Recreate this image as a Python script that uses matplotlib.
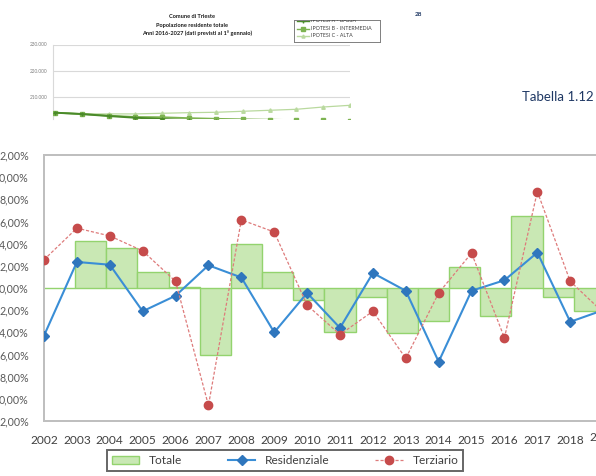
import matplotlib
matplotlib.use("Agg")
import matplotlib.pyplot as plt
from matplotlib.patches import Patch

plt.rcParams['font.family'] = ['Lato', 'DejaVu Sans']

# ---------------- data ----------------
years = list(range(2002, 2020))
totale = [0.0, 4.2, 3.6, 1.4, 0.1, -6.0, 4.0, 1.4, -1.1, -4.0, -0.8, -4.1,
          -3.0, 1.9, -2.5, 6.5, -0.8, -2.1]
residenziale = [-4.3, 2.35, 2.1, -2.1, -0.7, 2.05, 0.95, -4.0, -0.45, -3.6,
                1.35, -0.25, -6.65, -0.25, 0.7, 3.2, -3.05, -2.0]
terziario = [2.55, 5.4, 4.7, 3.35, 0.6, -10.6, 6.15, 5.05, -1.55, -4.2,
             -2.1, -6.35, -0.45, 3.15, -4.5, 8.7, 0.6, -2.2]
y_ticks = [12, 10, 8, 6, 4, 2, 0, -2, -4, -6, -8, -10, -12]
y_tick_labels = ["2,00%", "0,00%", "8,00%", "6,00%", "4,00%", "2,00%", "0,00%",
                 "2,00%", "4,00%", "6,00%", "8,00%", "0,00%", "2,00%"]

# inset (population projection)
inset_years = list(range(2016, 2028))
ipotesi_a = [204030, 203500, 202750, 202100, 201600, 201200, 200800, 200400,
             200000, 199600, 199200, 198800]
ipotesi_b = [204030, 203540, 202900, 202400, 202300, 201950, 201700, 201500,
             201350, 201200, 201100, 201000]
ipotesi_c = [204030, 203540, 203560, 203560, 203800, 204030, 204180, 204560,
             204940, 205320, 206190, 206840]
inset_ticks = [210000, 220000, 230000]
inset_tick_labels = ["210.000", "220.000", "230.000"]

W, H = 596, 476
fig = plt.figure(figsize=(W / 100, H / 100), dpi=100)


def fx(px):
    return px / W


def fy(py):
    return 1 - py / H


# ---------------- inset chart ----------------
ax_in = fig.add_axes([fx(53), fy(119), fx(350) - fx(53), fy(44.5) - fy(119)])
ax_in.set_xlim(2015.93, 2027)
ax_in.set_ylim(201620, 230000)
for v in inset_ticks:
    ax_in.axhline(v, color="#D9D9D9", lw=0.8, zorder=0)
ax_in.plot(inset_years, ipotesi_c, color="#B9D99E", lw=0.9, marker="^",
           ms=2.5, zorder=2)
ax_in.plot(inset_years, ipotesi_b, color="#7DB351", lw=1.3, marker="s",
           ms=2.2, zorder=3)
ax_in.plot(inset_years, ipotesi_a, color="#4A8A2A", lw=1.4, marker="+",
           ms=3, zorder=4)
ax_in.set_yticks(inset_ticks)
ax_in.set_yticklabels(inset_tick_labels, fontsize=3.4, color="#7F7F7F")
ax_in.tick_params(axis="y", length=0, pad=4)
ax_in.set_xticks([])
for s in ["top", "right", "bottom"]:
    ax_in.spines[s].set_visible(False)
ax_in.spines["left"].set_color("#D9D9D9")
ax_in.spines["left"].set_linewidth(0.8)

fig.text(fx(192), fy(17), "Comune di Trieste", ha="center", va="center",
         fontsize=4.1, fontweight="bold", color="#1A1A1A")
fig.text(fx(192), fy(25), "Popolazione residente totale", ha="center",
         va="center", fontsize=4.1, fontweight="bold", color="#1A1A1A")
fig.text(fx(197), fy(33.3), "Anni 2016-2027 (dati previsti al 1° gennaio)",
         ha="center", va="center", fontsize=4.1, fontweight="bold",
         color="#1A1A1A")

# inset legend (clipped at the top)
ax_lg = fig.add_axes([fx(294), fy(42), fx(380) - fx(294), fy(19.5) - fy(42)])
ax_lg.set_xlim(0, 86)
ax_lg.set_ylim(42, 19.5)
ax_lg.set_xticks([])
ax_lg.set_yticks([])
for s in ax_lg.spines.values():
    s.set_color("#7F7F7F")
    s.set_linewidth(0.7)
legend_entries = [("IPOTESI A - BASSA", "#4A8A2A", "+", 20.5),
                  ("IPOTESI B - INTERMEDIA", "#7DB351", "s", 28.7),
                  ("IPOTESI C - ALTA", "#B9D99E", "^", 35.8)]
for label, col, mk, yy in legend_entries:
    ax_lg.plot([3, 15], [yy, yy], color=col, lw=1.0, clip_on=True)
    ax_lg.plot([9], [yy], color=col, marker=mk, ms=2.2, clip_on=True)
    ax_lg.text(17, yy, label, fontsize=3.8, color="#404040", va="center",
               ha="left", clip_on=True)

fig.text(fx(418), fy(14.3), "28", ha="center", va="center", fontsize=4.6,
         fontweight="bold", color="#1F3864")
fig.text(fx(521.5), fy(97), "Tabella 1.12", ha="left", va="center",
         fontsize=9.5, color="#1F3864")

# ---------------- main chart ----------------
left, right, top, bottom = 44, 636, 155, 421
ax = fig.add_axes([fx(left), fy(bottom), fx(right) - fx(left),
                   fy(top) - fy(bottom)])
ax.set_ylim(-12, 12)
ax.set_xlim(0, 19)
bar_idx = list(range(len(years)))
bars = ax.bar(bar_idx, totale, width=1.0, align="edge", color="#C9E8B4",
              edgecolor="#93D36E", linewidth=1.0, label="Totale", zorder=1)

ax2 = ax.twiny()
ax2.set_xlim(0, 18)
line_idx = list(range(len(years)))
l1, = ax2.plot(line_idx, residenziale, color="#3A8ED6", lw=1.5, marker="D",
               ms=5.2, mfc="#2F76BD", mec="#2F76BD", label="Residenziale",
               zorder=3)
l2, = ax2.plot(line_idx, terziario, color="#DE7B7B", lw=0.9,
               linestyle=(0, (2.5, 1.5)), marker="o", ms=6, mfc="#C64B4B",
               mec="#C64B4B", label="Terziario", zorder=4)

ax.set_yticks(y_ticks)
ax.set_yticklabels(y_tick_labels, fontsize=7.7, color="#595959")
ax.tick_params(axis="y", length=0, pad=11)
ax.set_xticks([])
ax2.xaxis.set_ticks_position("bottom")
ax2.xaxis.set_label_position("bottom")
ax2.set_xticks(line_idx[:17])
ax2.set_xticklabels([str(y) for y in years[:17]], fontsize=8.6,
                    color="#404040")
ax2.tick_params(axis="x", length=0, pad=10)
for a in (ax, ax2):
    for s in a.spines.values():
        s.set_color("#BFBFBF")
        s.set_linewidth(1.3)
fig.text(fx(589.5), fy(437.5), "2", ha="left", va="center", fontsize=8.6,
         color="#404040")

leg = fig.legend(handles=[Patch(facecolor="#C9E8B4", edgecolor="#93D36E",
                                label="Totale"), l1, l2],
                 loc="center", ncol=3, mode="expand",
                 bbox_to_anchor=(fx(107), fy(474), fx(463) - fx(107),
                                 fy(447) - fy(474)),
                 frameon=True, fancybox=False, fontsize=8.6,
                 handlelength=2.3, handleheight=0.6, borderpad=0.4,
                 borderaxespad=0, labelcolor="#404040")
leg.get_frame().set_edgecolor("#404040")
leg.get_frame().set_linewidth(1.4)

fig.savefig("out.png", dpi=100)
